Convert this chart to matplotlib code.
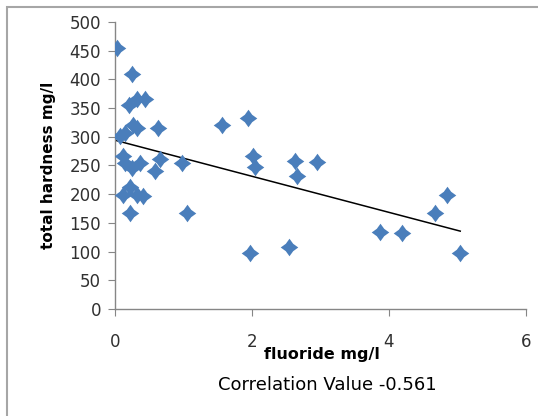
import numpy as np
import matplotlib
matplotlib.use("Agg")
import matplotlib.pyplot as plt
from matplotlib.patches import Rectangle
from matplotlib.path import Path

# Fluoride (mg/l) and total hardness (mg/l) per sample
fluoride = [0.03, 0.25, 0.20, 0.32, 0.44, 0.26, 0.32, 0.63, 0.07, 0.15,
            0.12, 0.15, 0.25, 0.36, 0.66, 0.58, 0.98, 0.22, 0.12, 0.32,
            0.41, 0.22, 1.05, 1.56, 1.94, 2.01, 2.04, 2.63, 2.95, 2.65,
            1.97, 2.54, 3.87, 4.19, 4.67, 4.84, 5.04]
hardness = [455, 410, 355, 365, 366, 321, 315, 316, 302, 306,
            267, 255, 246, 254, 262, 241, 255, 212, 198, 199,
            197, 167, 167, 320, 332, 267, 247, 258, 256, 231,
            98, 108, 134, 132, 167, 198, 98]

x_ticks = [0, 2, 4, 6]
y_ticks = [0, 50, 100, 150, 200, 250, 300, 350, 400, 450, 500]
x_label = "fluoride mg/l"
y_label = "total hardness mg/l"
note = "Correlation Value -0.561"

plt.rcParams["font.family"] = ["DejaVu Sans"]

# diamond with slightly pinched sides
k = 0.42
star_diamond = Path([(0, 1), (k, k), (1, 0), (k, -k), (0, -1), (-k, -k),
                     (-1, 0), (-k, k), (0, 1)], closed=True)

fig = plt.figure(figsize=(5.38, 4.16), dpi=100)
ax = fig.add_axes([115 / 538, 1 - 309 / 416, 411 / 538, 287 / 416])

# outer chart-area border
fig.patches.append(Rectangle((7 / 538, -0.1), 1.2, 1 - 7 / 416 + 0.1,
                             transform=fig.transFigure, fill=False,
                             edgecolor="#a6a6a6", linewidth=1.5))

x = np.array(fluoride)
y = np.array(hardness)
ax.scatter(x, y, marker=star_diamond, s=160, color="#4a7ebb",
           linewidths=0, zorder=3)

# least-squares trend line over the data range
slope, intercept = np.polyfit(x, y, 1)
xs = np.array([0.0, x.max()])
ax.plot(xs, slope * xs + intercept, color="black", linewidth=1.1, zorder=2)

ax.set_xlim(0, 6)
ax.set_ylim(0, 500)
ax.set_xticks(x_ticks)
ax.set_yticks(y_ticks)
for s in ("top", "right"):
    ax.spines[s].set_visible(False)
for s in ("left", "bottom"):
    ax.spines[s].set_color("#868686")
    ax.spines[s].set_linewidth(1.0)
ax.tick_params(axis="both", direction="out", length=5, color="#868686",
               labelsize=12, labelcolor="#303030")
ax.tick_params(axis="x", pad=12)
ax.tick_params(axis="y", pad=5)

ax.set_ylabel(y_label, fontsize=11, fontweight="bold", labelpad=10)
fig.text(0.598, 1 - 355 / 416, x_label, ha="center", va="center",
         fontsize=11.5, fontweight="bold")
fig.text(0.608, 1 - 385 / 416, note, ha="center", va="center", fontsize=13)

fig.savefig("out.png", dpi=100)
